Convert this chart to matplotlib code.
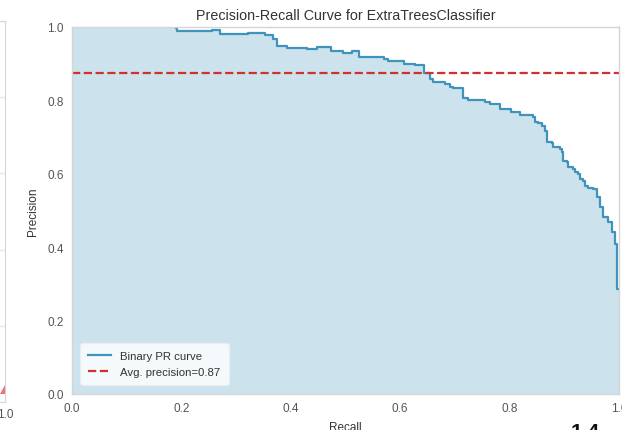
import matplotlib
matplotlib.use("Agg")
import matplotlib.pyplot as plt
import numpy as np

plt.rcParams['font.family'] = ['Liberation Sans', 'DejaVu Sans']

# ---- data ----
recall = [0.000, 0.190, 0.192, 0.256, 0.271, 0.322, 0.353, 0.367, 0.375, 0.393,
          0.430, 0.448, 0.473, 0.495, 0.512, 0.525, 0.570, 0.578, 0.607, 0.627,
          0.644, 0.654, 0.660, 0.682, 0.691, 0.697, 0.715, 0.724, 0.755, 0.764,
          0.782, 0.803, 0.819, 0.843, 0.846, 0.852, 0.859, 0.865, 0.868, 0.878,
          0.879, 0.892, 0.896, 0.898, 0.905, 0.907, 0.916, 0.920, 0.925, 0.929,
          0.934, 0.938, 0.943, 0.952, 0.960, 0.965, 0.971, 0.980, 0.987, 0.993,
          0.996, 1.000]
precision = [1.000, 0.996, 0.989, 0.992, 0.981, 0.984, 0.978, 0.967, 0.948, 0.944,
             0.940, 0.946, 0.935, 0.929, 0.935, 0.918, 0.913, 0.907, 0.899, 0.896,
             0.875, 0.858, 0.850, 0.845, 0.837, 0.834, 0.807, 0.801, 0.796, 0.790,
             0.777, 0.768, 0.760, 0.755, 0.741, 0.738, 0.730, 0.717, 0.687, 0.684,
             0.673, 0.668, 0.659, 0.635, 0.632, 0.619, 0.613, 0.605, 0.599, 0.586,
             0.580, 0.567, 0.561, 0.559, 0.537, 0.510, 0.482, 0.469, 0.441, 0.409,
             0.286, 0.286]
avg_precision = 0.874
ticks = [0.0, 0.2, 0.4, 0.6, 0.8, 1.0]
tick_labels = ["0.0", "0.2", "0.4", "0.6", "0.8", "1.0"]

# neighbouring (cropped) chart on the left
left_grid = [0.2, 0.4, 0.6, 0.8, 1.0]
left_tri_x = [0.986, 1.0, 1.0]
left_tri_y = [0.022, 0.022, 0.045]

blue = '#0272a2'
line_blue = '#3f93bd'
red = '#d1302c'
grid_c = '#e6e6e6'
spine_c = '#d5d5d5'
tick_c = '#555555'

fig = plt.figure(figsize=(6.22, 4.31), dpi=100)

# ---- main axes ----
ax = fig.add_axes([72/622, 1-395/431, (619-72)/622, (395-28)/431])
ax.set_facecolor('white')
ax.fill_between(recall, precision, step='post', color=blue, alpha=0.2, lw=0)
ax.step(recall[1:], precision[1:], where='post', color=line_blue, lw=1.6,
        label='Binary PR curve')
ax.axhline(avg_precision, color=red, ls='--', lw=1.6,
           label='Avg. precision={:0.2f}'.format(avg_precision))
ax.set_xlim(0, 1)
ax.set_ylim(0, 1)
ax.set_xticks(ticks)
ax.set_xticklabels(tick_labels)
ax.set_yticks(ticks)
ax.set_yticklabels(tick_labels)
ax.tick_params(length=0, labelsize=8.5, colors=tick_c, pad=6)
for s in ax.spines.values():
    s.set_color(spine_c)
    s.set_linewidth(1.0)
ax.set_title('Precision-Recall Curve for ExtraTreesClassifier', fontsize=10.3,
             color='#333333', pad=6)
ax.set_xlabel('Recall', fontsize=8.5, color='#333333', labelpad=5)
ax.set_ylabel('Precision', fontsize=8.5, color='#333333', labelpad=6)
leg = ax.legend(loc='lower left', fontsize=8.2, frameon=True, framealpha=0.8,
                facecolor='white', edgecolor='#eeeeee', borderpad=0.7,
                handlelength=2.0, bbox_to_anchor=(0.005, 0.01))
for t in leg.get_texts():
    t.set_color('#333333')

# ---- cropped neighbouring axes (left) ----
ax2 = fig.add_axes([-0.6, 1-403/431, 0.6 + 5/622, (403-22)/431])
ax2.set_xlim(0, 1)
ax2.set_ylim(0, 1)
ax2.set_yticks(left_grid)
ax2.set_xticks([1.0])
ax2.set_xticklabels(['1.0'])
ax2.grid(axis='y', color=grid_c, lw=1.0)
ax2.fill(left_tri_x, left_tri_y, color='#d83a3a', alpha=0.7, lw=0)
ax2.tick_params(length=0, labelsize=8.5, colors=tick_c, pad=4)
for s in ax2.spines.values():
    s.set_color(spine_c)

# cropped large bold text at bottom right
fig.text(585/622, 1-423/431, '1.4', fontsize=15, fontweight='bold',
         ha='center', va='top', color='#111111')

fig.savefig('out.png', dpi=100)
